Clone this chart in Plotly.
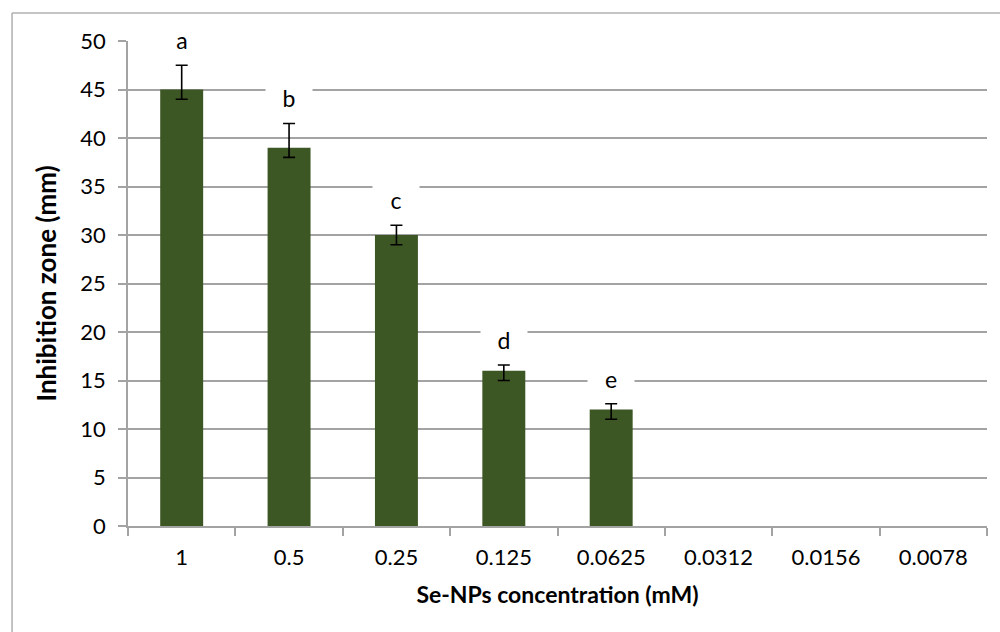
import plotly.graph_objects as go

# Se-NPs concentrations (mM) and measured inhibition zones (mm)
concentrations = ["1", "0.5", "0.25", "0.125", "0.0625", "0.0312", "0.0156", "0.0078"]
inhibition_zone = [45, 39, 30, 16, 12, 0, 0, 0]
err_plus = [2.5, 2.5, 1.0, 0.6, 0.6, None, None, None]
err_minus = [1.0, 1.0, 1.0, 1.0, 1.0, None, None, None]
group_letters = ["a", "b", "c", "d", "e", "", "", ""]

FONT = "Lato, 'Open Sans', sans-serif"
BAR_COLOR = "rgb(60,86,36)"
GRID = "#a3a3a3"

fig = go.Figure()
fig.add_trace(go.Bar(
    x=concentrations,
    y=inhibition_zone,
    marker=dict(color=BAR_COLOR, line=dict(width=0)),
    width=0.4,
    hoverinfo="x+y",
))

# Error bars only where a measurement spread exists
has_err = [i for i, e in enumerate(err_plus) if e is not None]
fig.add_trace(go.Scatter(
    x=[concentrations[i] for i in has_err],
    y=[inhibition_zone[i] for i in has_err],
    mode="markers",
    marker=dict(size=1, opacity=0),
    error_y=dict(
        type="data", symmetric=False,
        array=[err_plus[i] for i in has_err],
        arrayminus=[err_minus[i] for i in has_err],
        color="black", thickness=1.6, width=6,
    ),
    hoverinfo="skip",
))

# Significance letters above each error bar, on a white label box
for i, (val, ep, letter) in enumerate(zip(inhibition_zone, err_plus, group_letters)):
    if not letter:
        continue
    fig.add_annotation(
        x=i, y=val + ep, yshift=25,
        text=letter, showarrow=False,
        font=dict(family=FONT, size=23, color="black"),
        bgcolor="white", width=44, height=26,
        xanchor="center", yanchor="middle",
    )

# Outer chart-area frame (left and top edges)
fig.add_shape(type="line", xref="paper", yref="paper",
              x0=-0.135, x1=-0.135, y0=1.0577, y1=-0.25,
              line=dict(color="#b0b0b0", width=1.5))
fig.add_shape(type="line", xref="paper", yref="paper",
              x0=-0.135, x1=1.05, y0=1.0577, y1=1.0577,
              line=dict(color="#b0b0b0", width=1.5))

fig.update_layout(
    width=1000, height=632,
    margin=dict(l=128, r=13, t=41, b=106),
    paper_bgcolor="white", plot_bgcolor="white",
    showlegend=False,
    font=dict(family=FONT, size=23, color="black"),
    xaxis=dict(
        type="category",
        tickson="boundaries",
        ticks="outside", ticklen=8, tickcolor=GRID, tickwidth=1.5,
        showline=True, linecolor=GRID, linewidth=1.5,
        showgrid=False,
        tickfont=dict(family=FONT, size=22),
        ticklabelstandoff=11,
        title=dict(text="<b>Se-NPs concentration (mM)</b>",
                   font=dict(family=FONT, size=23), standoff=18),
    ),
    yaxis=dict(
        range=[0, 50], dtick=5,
        ticks="outside", ticklen=8, tickcolor=GRID, tickwidth=1.5,
        showline=True, linecolor=GRID, linewidth=1.5,
        showgrid=True, gridcolor=GRID, gridwidth=1.5,
        zeroline=False,
        tickfont=dict(family=FONT, size=22),
        ticklabelstandoff=8,
        title=dict(text="<b>Inhibition zone (mm)</b>",
                   font=dict(family=FONT, size=26), standoff=16),
    ),
)

fig.write_html("out.html")
